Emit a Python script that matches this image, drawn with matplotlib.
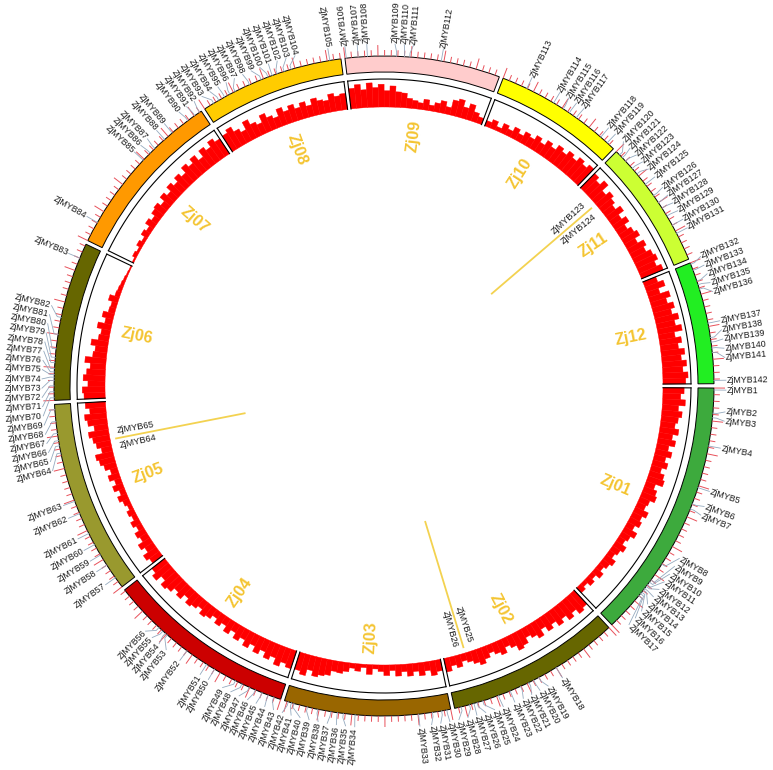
import numpy as np
from matplotlib import pyplot as plt

chroms = ['Zj01', 'Zj02', 'Zj03', 'Zj04', 'Zj05', 'Zj06',
          'Zj07', 'Zj08', 'Zj09', 'Zj10', 'Zj11', 'Zj12']
chrom_len = [40.0, 26.6, 25.4, 29.2, 29.8, 24.3, 26.3, 22.1, 23.7, 19.9, 19.7, 18.7]  # Mb
chrom_colors = ['#3DAA3D', '#666600', '#996600', '#CC0000', '#99992E', '#666600',
                '#FF9900', '#FFCC00', '#FFCCCC', '#FFFF00', '#CCFF33', '#22EE22']

# gene density along each chromosome (genes per bin)
dens_zj01 = [52, 44, 56, 40, 50, 42, 36, 47, 34, 44, 30, 41, 29, 38, 26, 37, 42, 24, 33, 38,
             26, 22, 35, 25, 31, 20, 34, 24, 18, 30, 22, 16, 28, 21, 14, 24, 12, 20, 10, 17]
dens_zj02 = [46, 52, 38, 48, 34, 44, 30, 40, 26, 42, 32, 24, 38, 44, 30, 22, 36, 28, 20, 30,
             40, 32, 24, 18, 30, 22, 34]
dens_zj03 = [28, 36, 22, 32, 20, 30, 18, 28, 14, 26, 16, 10, 24, 8, 18, 12, 22, 28, 26, 38,
             42, 48, 36, 52, 44]
dens_zj04 = [46, 38, 50, 34, 44, 30, 42, 28, 40, 26, 36, 22, 34, 20, 30, 18, 28, 34, 22, 30,
             36, 24, 38, 30, 42, 48, 34, 50, 40]
dens_zj05 = [30, 38, 24, 34, 20, 26, 14, 22, 12, 18, 10, 16, 24, 14, 26, 16, 28, 18, 30, 38,
             44, 26, 36, 42, 50, 34, 48, 54, 40, 50]
dens_zj06 = [52, 56, 42, 54, 46, 38, 52, 34, 30, 42, 26, 22, 34, 18, 28, 16, 14, 24, 12, 10,
             8, 6, 4, 3]
dens_zj07 = [4, 10, 6, 14, 8, 18, 12, 24, 16, 26, 30, 20, 34, 24, 38, 28, 40, 30, 46, 36,
             48, 32, 50, 40, 54, 44]
dens_zj08 = [46, 54, 40, 30, 50, 36, 28, 46, 34, 26, 44, 32, 42, 30, 40, 28, 42, 34, 30, 44,
             36, 40]
dens_zj09 = [50, 58, 44, 60, 48, 56, 40, 52, 38, 36, 24, 20, 16, 26, 14, 22, 30, 18, 38, 44,
             28, 40, 24, 16]
dens_zj10 = [14, 22, 10, 24, 16, 28, 18, 30, 24, 36, 26, 40, 32, 46, 38, 50, 42, 54, 46, 56]
dens_zj11 = [50, 40, 54, 34, 46, 38, 30, 44, 28, 40, 26, 36, 44, 30, 46, 38, 50, 56, 46, 58]
dens_zj12 = [34, 48, 30, 52, 40, 54, 44, 58, 46, 60, 40, 54, 44, 58, 48, 60, 50, 62, 56]
density = [dens_zj01, dens_zj02, dens_zj03, dens_zj04, dens_zj05, dens_zj06,
           dens_zj07, dens_zj08, dens_zj09, dens_zj10, dens_zj11, dens_zj12]

# ZjMYB gene positions (Mb), numbered ZjMYB1..ZjMYB142 in chromosome order
myb_zj01 = [0.3, 3.8, 4.5, 8.8, 15.3, 17.9, 18.7, 28.1, 31.0, 31.4, 31.9, 32.2, 32.6, 32.9,
            33.3, 33.6, 34.0]
myb_zj02 = [10.0, 13.0, 13.9, 14.7, 16.1, 17.8, 19.7, 22.2, 23.1, 23.6, 24.3, 25.6]
myb_zj03 = [0.6, 1.4, 2.8, 4.9, 14.5, 16.3, 17.2, 18.2, 20.2, 21.8, 23.9, 24.3, 24.8]
myb_zj04 = [1.1, 2.0, 3.0, 4.1, 5.1, 6.3, 7.4, 11.0, 12.4, 16.0, 19.8, 20.2, 20.7, 21.5]
myb_zj05 = [1.7, 4.0, 5.8, 7.6, 9.5, 12.8, 14.8, 22.4, 23.5, 24.3, 25.4, 27.2, 29.0]
myb_zj06 = [0.4, 1.3, 2.2, 3.0, 3.5, 3.9, 4.3, 4.8, 5.7, 6.5, 7.8, 10.0, 12.6, 22.0]
myb_zj07 = [3.1, 14.8, 16.3, 17.3, 19.3, 20.8, 23.8, 25.1, 26.0]
myb_zj08 = [1.6, 2.5, 3.5, 4.4, 5.3, 7.7, 9.6, 10.7, 11.4, 12.2, 13.3, 14.4, 20.4]
myb_zj09 = [0.2, 2.0, 3.4, 7.8, 9.0, 9.8, 14.6]
myb_zj10 = [3.9, 8.5, 10.2, 11.3, 12.6, 17.3, 18.6]
myb_zj11 = [0.7, 1.3, 2.0, 3.5, 4.6, 6.6, 8.7, 10.0, 11.0, 12.4, 14.0, 15.4]
myb_zj12 = [0.2, 1.2, 2.9, 3.5, 4.2, 9.5, 11.7, 12.4, 13.3, 14.0, 18.2]
myb_pos = [myb_zj01, myb_zj02, myb_zj03, myb_zj04, myb_zj05, myb_zj06,
           myb_zj07, myb_zj08, myb_zj09, myb_zj10, myb_zj11, myb_zj12]

tandem_pairs = [(25, 26), (64, 65), (123, 124)]

deg_per_mb = 1.15
gap = 0.7
dens_max = 64

plt.rcParams['font.family'] = ['Liberation Sans', 'DejaVu Sans']

fig = plt.figure(figsize=(7.73, 7.70), dpi=100)
ax = fig.add_axes([0, 0, 768 / 773, 768 / 770], projection='polar')
ax.set_theta_zero_location('E')
ax.set_theta_direction(-1)
ax.set_rlim(0, 384)
ax.set_axis_off()


def text_rot(a):
    a = a % 360
    if a < 90 or a >= 262:
        return -a, 'left'
    return 180 - a, 'right'


starts = []
s = gap / 2
for L in chrom_len:
    starts.append(s)
    s += L * deg_per_mb + gap

for i, name in enumerate(chroms):
    a0 = starts[i]
    span = chrom_len[i] * deg_per_mb
    # chromosome band
    ax.bar(np.radians(a0), 16, width=np.radians(span), bottom=314, align='edge',
           color=chrom_colors[i], edgecolor='black', linewidth=0.7)
    # density track
    vals = np.array(density[i], dtype=float)
    n = len(vals)
    w = span / n
    ax.bar(np.radians(a0 + np.arange(n) * w), vals / dens_max * 26, width=np.radians(w),
           bottom=279, align='edge', color='#FF0000', edgecolor='#FF0000', linewidth=0.3)
    th = np.radians(np.linspace(a0, a0 + span, 200))
    ax.plot(th, np.full_like(th, 307), color='black', lw=0.8)
    ax.plot([th[0], th[0]], [279, 307], color='black', lw=0.8)
    ax.plot([th[-1], th[-1]], [279, 307], color='black', lw=0.8)
    # ticks
    mb = np.arange(0, int(chrom_len[i]) + 1)
    tick_end = np.where(mb % 5 == 0, 341, 336)
    ax.vlines(np.radians(a0 + mb * deg_per_mb), 330, tick_end, color='#E8505A', lw=0.7)
    # chromosome name
    mid = a0 + span / 2
    rot, _ = text_rot(mid)
    ax.text(np.radians(mid), 252, name, rotation=rot, rotation_mode='anchor',
            ha='center', va='center', color='#F4C430', fontsize=11.5, fontweight='bold')

# gene labels
gene_ang = []
for i, plist in enumerate(myb_pos):
    for p in plist:
        gene_ang.append(starts[i] + p * deg_per_mb)
gene_ang = np.array(gene_ang)

lab_ang = gene_ang.copy()
min_sep = 1.55
for _ in range(3000):
    moved = False
    for k in range(len(lab_ang) - 1):
        d = lab_ang[k + 1] - lab_ang[k]
        if d < min_sep - 1e-6:
            sh = (min_sep - d) / 2
            lab_ang[k] -= sh
            lab_ang[k + 1] += sh
            moved = True
    if not moved:
        break

for k, (ga, la) in enumerate(zip(gene_ang, lab_ang)):
    ax.plot(np.radians([ga, ga, la]), [330, 334, 342], color='#95AABF', lw=0.6)
    rot, ha = text_rot(la)
    ax.text(np.radians(la), 343, f'ZjMYB{k + 1}', rotation=rot, rotation_mode='anchor',
            ha=ha, va='center', fontsize=6.4, color='#1a1a1a')

# tandem duplicated pairs
for g1, g2 in tandem_pairs:
    a1, a2 = gene_ang[g1 - 1], gene_ang[g2 - 1]
    am = (a1 + a2) / 2
    ax.plot(np.radians([am, am]), [142, 273], color='#F3D250', lw=1.3)
    for g, a in ((g1, a1), (g2, a2)):
        la = am - 1.7 if a < am else am + 1.7
        rot, ha = text_rot(la)
        ha_in = 'right' if ha == 'left' else 'left'
        ax.text(np.radians(la), 271, f'ZjMYB{g}', rotation=rot, rotation_mode='anchor',
                ha=ha_in, va='center', fontsize=6.6, color='#1a1a1a')

fig.savefig('out.png', dpi=100)
